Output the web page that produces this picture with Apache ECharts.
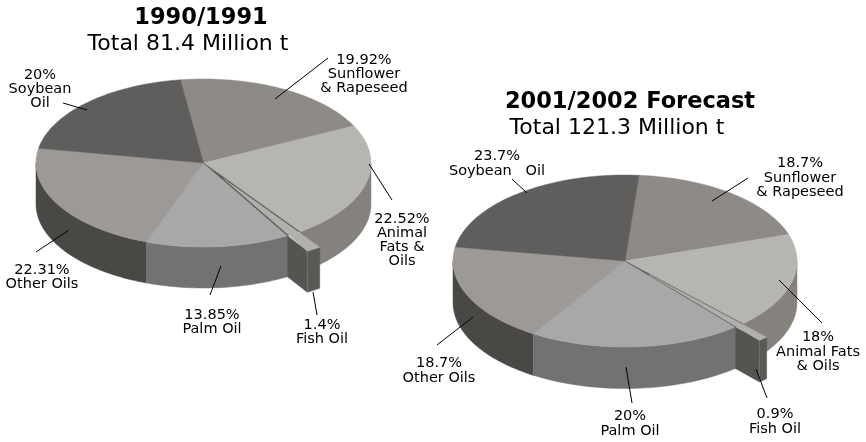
<!DOCTYPE html>
<html>
<head>
<meta charset="utf-8">
<style>html,body{margin:0;padding:0;background:#fff}#c{width:866px;height:442px}</style>
<script src="https://cdn.jsdelivr.net/npm/echarts@6/dist/echarts.min.js"></script>
</head>
<body>
<div id="c"></div>
<script>
// ---- data (clockwise order, starting at the Sunflower slice) ----
const names1990 = ['Sunflower\n& Rapeseed', 'Animal\nFats &\nOils', 'Fish Oil', 'Palm Oil', 'Other Oils', 'Soybean\nOil'];
const values1990 = [19.92, 22.52, 1.4, 13.85, 22.31, 20];
const names2001 = ['Sunflower\n& Rapeseed', 'Animal Fats\n& Oils', 'Fish Oil', 'Palm Oil', 'Other Oils', 'Soybean   Oil'];
const values2001 = [18.7, 18, 0.9, 20, 18.7, 23.7];
const explodedIndex = 2;

// ---- styles and layout ----
const topColors = ['#8e8b87', '#b6b5b0', '#b2b0ab', '#a8a8a8', '#9c9996', '#5f5e5c'];
const wallColors = ['#8e8b87', '#85827d', '#5a5957', '#727272', '#4a4845', '#4a4845'];
const fishSideColor = '#565451';
const FONT = '"DejaVu Sans", Verdana, sans-serif';

const layout1990 = {
  cx: 203.5, cy: 163, rx: 167.5, ry: 84, depth: 41, start: -7.9, explode: 0.22, lineHeight: 14,
  labels: [[364, 53], [402, 212], [322, 318], [212, 308], [42, 263], [40, 68]],
  leaders: [[275, 99, 328, 58], [369, 164, 392, 200], [313, 292, 317, 315], [221, 266, 210, 295], [69, 230, 36, 252], [87, 110, 63, 103]]
};
const layout2001 = {
  cx: 625, cy: 261, rx: 172, ry: 86, depth: 41.5, start: 4.7, explode: 0.21, lineHeight: 14.5,
  labels: [[800, 156], [818, 330], [775, 407], [630, 409], [439, 356], [497, 149]],
  leaders: [[712, 201, 748, 178], [779, 280, 822, 323], [756, 369, 767, 398], [626, 367, 632, 403], [473, 317, 437, 345], [527, 193, 512, 179]]
};

function pieSeries(names, values, L) {
  const toAngle = v => echarts.number.linearMap(v, [0, 100], [0, 360]);
  const pt = (a, ox, oy) => {
    const r = a * Math.PI / 180;
    return [L.cx + (ox || 0) + L.rx * Math.sin(r), L.cy + (oy || 0) - L.ry * Math.cos(r)];
  };
  const arc = (a0, a1, ox, oy) => {
    const n = Math.max(2, Math.ceil((a1 - a0) / 1.5));
    const out = [];
    for (let i = 0; i <= n; i++) out.push(pt(a0 + (a1 - a0) * i / n, ox, oy));
    return out;
  };
  const poly = (points, fill, z2) => ({
    type: 'polygon', z2,
    shape: { points },
    style: { fill, stroke: fill, lineWidth: 0.5 }
  });
  const wallOf = (a0, a1, ox, oy, fill, z2) => {
    const upper = arc(a0, a1, ox, oy);
    const lower = upper.map(p => [p[0], p[1] + L.depth]).reverse();
    return poly(upper.concat(lower), fill, z2);
  };
  return {
    type: 'custom',
    coordinateSystem: 'none',
    animation: false,
    silent: true,
    data: values.map((v, i) => ({ name: names[i], value: [v] })),
    renderItem(params, api) {
      const i = params.dataIndex;
      const v = api.value(0);
      let sum = 0;
      for (let k = 0; k < i; k++) sum += values[k];
      const a0 = L.start + toAngle(sum);
      const a1 = a0 + toAngle(v);
      const children = [];
      if (i === explodedIndex) {
        const mid = (a0 + a1) / 2 * Math.PI / 180;
        const ox = L.explode * L.rx * Math.sin(mid);
        const oy = -L.explode * L.ry * Math.cos(mid);
        // dark slit left behind the pulled-out wedge
        children.push(poly([[L.cx, L.cy], pt(a0), pt(a1)], fishSideColor, 2));
        // side wall along the wedge's left edge, from where it leaves the rim
        const inner = pt(a1);
        const outer = pt(a1, ox, oy);
        children.push(poly([inner, outer, [outer[0], outer[1] + L.depth], [inner[0], inner[1] + L.depth]], fishSideColor, 3));
        // outer wall
        children.push(wallOf(a0, a1, ox, oy, wallColors[i], 3));
        children.push({ type: 'line', z2: 4, shape: { x1: outer[0], y1: outer[1], x2: outer[0], y2: outer[1] + L.depth },
          style: { stroke: '#7d7c79', lineWidth: 0.7 } });
        // top
        children.push(poly([[L.cx + ox, L.cy + oy]].concat(arc(a0, a1, ox, oy)), topColors[i], 5));
      } else {
        const w0 = Math.max(a0, 90), w1 = Math.min(a1, 270);
        if (w1 > w0) children.push(wallOf(w0, w1, 0, 0, wallColors[i], 1));
        children.push(poly([[L.cx, L.cy]].concat(arc(a0, a1)), topColors[i], 1));
        if (a0 > 90 && a0 < 270) {
          const p = pt(a0);
          children.push({ type: 'line', z2: 2, shape: { x1: p[0], y1: p[1], x2: p[0], y2: p[1] + L.depth },
            style: { stroke: '#8f8f8d', lineWidth: 0.8 } });
        }
      }
      const seg = L.leaders[i];
      children.push({ type: 'line', z2: 8, shape: { x1: seg[0], y1: seg[1], x2: seg[2], y2: seg[3] },
        style: { stroke: '#000', lineWidth: 1 } });
      children.push({ type: 'text', z2: 9, style: {
        x: L.labels[i][0], y: L.labels[i][1], text: v + '%\n' + names[i],
        align: 'center', verticalAlign: 'top', fill: '#000', font: '14.5px ' + FONT, lineHeight: L.lineHeight
      } });
      return { type: 'group', children };
    }
  };
}

const titleBold = { fontFamily: FONT, fontWeight: 'bold', fontSize: 22.5, color: '#000' };
const titlePlain = { fontFamily: FONT, fontWeight: 'normal', fontSize: 22, color: '#000' };

const chart = echarts.init(document.getElementById('c'), null, { renderer: 'canvas' });
chart.setOption({
  backgroundColor: '#fff',
  animation: false,
  title: [
    { text: '1990/1991', left: 201, top: 7, padding: 0, textAlign: 'center', textStyle: titleBold },
    { text: 'Total 81.4 Million t', left: 188, top: 33, padding: 0, textAlign: 'center', textStyle: titlePlain },
    { text: '2001/2002 Forecast', left: 630, top: 91, padding: 0, textAlign: 'center', textStyle: titleBold },
    { text: 'Total 121.3 Million t', left: 617, top: 117, padding: 0, textAlign: 'center', textStyle: titlePlain }
  ],
  series: [pieSeries(names1990, values1990, layout1990), pieSeries(names2001, values2001, layout2001)]
});
</script>
</body>
</html>
